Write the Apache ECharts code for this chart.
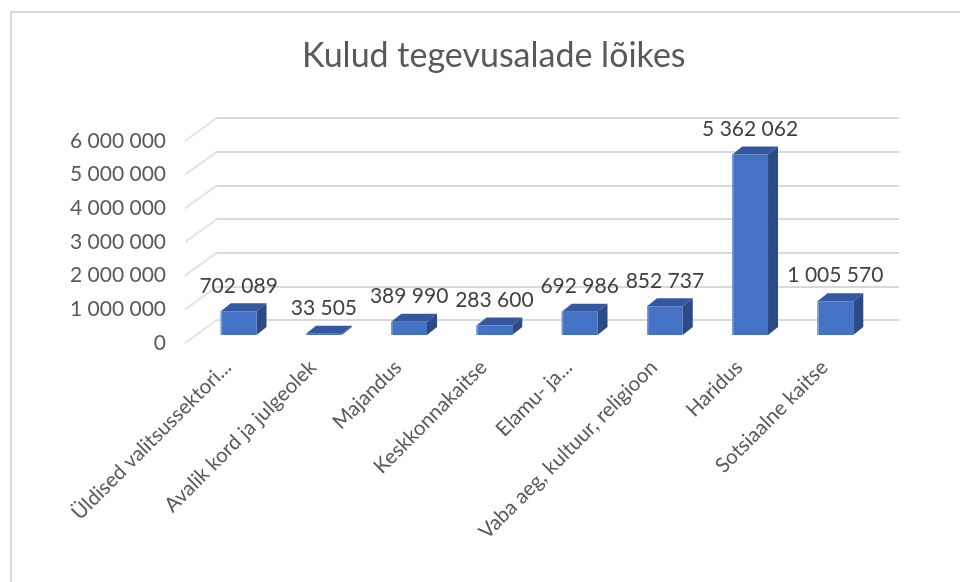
<!DOCTYPE html>
<html>
<head>
    <meta charset="utf-8">
    <title>Kulud tegevusalade lõikes</title>
    <script src="https://cdn.jsdelivr.net/npm/echarts@6/dist/echarts.min.js"></script>
    <style>
        html, body { margin: 0; padding: 0; background: #fff; overflow: hidden; }
        #frame {
            position: absolute; left: 10px; top: 11px;
            width: 1000px; height: 640px;
            border-left: 2px solid #d9d9d9; border-top: 2px solid #d9d9d9;
        }
        #main { position: absolute; left: 0; top: 0; width: 960px; height: 582px; }
    </style>
</head>
<body>
    <div id="frame"></div>
    <div id="main"></div>
    <script type="text/javascript">
        // data
        var categories = ['Üldised valitsussektori...', 'Avalik kord ja julgeolek', 'Majandus', 'Keskkonnakaitse',
                          'Elamu- ja...', 'Vaba aeg, kultuur, religioon', 'Haridus', 'Sotsiaalne kaitse'];
        var values = [702089, 33505, 389990, 283600, 692986, 852737, 5362062, 1005570];
        var yMax = 6000000;
        var yStep = 1000000;

        // three planes of the fake 3D box: front (labels), bar plane, back wall (gridlines)
        var front = { left: 185, top: 141, width: 682, height: 202 };
        var mid   = { left: 196, top: 133, width: 682, height: 202 };
        var back  = { left: 217, top: 118, width: 682, height: 202 };
        var DX = back.left - front.left, DY = front.top - back.top;
        var BAR_DX = 10, BAR_DY = 8;

        var font = 'Lato, "Open Sans", sans-serif';

        function fmt(v) {
            return String(v).replace(/\B(?=(\d{3})+(?!\d))/g, ' ');
        }

        var ticks = [];
        for (var t = 0; t <= yMax; t += yStep) ticks.push(t);

        var myChart = echarts.init(document.getElementById('main'));

        myChart.setOption({
            animation: false,
            title: {
                text: 'Kulud tegevusalade lõikes',
                left: 297, top: 34,
                textStyle: { fontFamily: font, fontSize: 34, fontWeight: 'normal', color: '#595959' }
            },
            grid: [
                { left: front.left, top: front.top, width: front.width, height: front.height },
                { left: mid.left, top: mid.top, width: mid.width, height: mid.height },
                { left: back.left, top: back.top, width: back.width, height: back.height }
            ],
            xAxis: [
                { gridIndex: 0, type: 'category', data: categories,
                  axisLine: { show: false }, axisTick: { show: false },
                  axisLabel: { interval: 0, rotate: 45, margin: 21, fontFamily: font, fontSize: 20.5, color: '#595959' } },
                { gridIndex: 1, type: 'category', data: categories, show: false },
                { gridIndex: 2, type: 'category', data: categories, show: false }
            ],
            yAxis: [
                { gridIndex: 0, type: 'value', min: 0, max: yMax, interval: yStep,
                  axisLine: { show: false }, axisTick: { show: false }, splitLine: { show: false },
                  axisLabel: { margin: 19, fontFamily: font, fontSize: 21, color: '#595959', formatter: fmt } },
                { gridIndex: 1, type: 'value', min: 0, max: yMax, interval: yStep, show: false, splitLine: { show: false } },
                { gridIndex: 2, type: 'value', min: 0, max: yMax, interval: yStep,
                  axisLine: { show: false }, axisTick: { show: false }, axisLabel: { show: false },
                  splitLine: { show: true, lineStyle: { color: '#d9d9d9', width: 2 } } }
            ],
            series: [
                {
                    // side connectors from front edge to back wall
                    type: 'custom',
                    xAxisIndex: 0, yAxisIndex: 0,
                    data: ticks.map(function (v) { return [0, v]; }),
                    silent: true,
                    renderItem: function (params, api) {
                        var p = api.coord([0, api.value(1)]);
                        var x0 = p[0] - api.size([1, 0])[0] / 2;
                        return {
                            type: 'line',
                            shape: { x1: x0, y1: p[1], x2: x0 + DX, y2: p[1] - DY },
                            style: { stroke: '#e3e3e3', lineWidth: 2 }
                        };
                    }
                },
                {
                    type: 'custom',
                    xAxisIndex: 1, yAxisIndex: 1,
                    data: values.map(function (v, i) { return [i, v]; }),
                    renderItem: function (params, api) {
                        var top = api.coord([api.value(0), api.value(1)]);
                        var bot = api.coord([api.value(0), 0]);
                        var w = api.size([1, 0])[0] * 0.42;
                        var x0 = top[0] - w / 2, x1 = top[0] + w / 2;
                        var yt = top[1], yb = bot[1];
                        return {
                            type: 'group',
                            children: [
                                { type: 'polygon',
                                  shape: { points: [[x1, yb], [x1 + BAR_DX, yb - BAR_DY], [x1 + BAR_DX, yt - BAR_DY], [x1, yt]] },
                                  style: { fill: '#2c4a85' } },
                                { type: 'polygon',
                                  shape: { points: [[x0, yt], [x1, yt], [x1 + BAR_DX, yt - BAR_DY], [x0 + BAR_DX, yt - BAR_DY]] },
                                  style: { fill: '#3457a0' } },
                                { type: 'rect',
                                  shape: { x: x0, y: yt, width: w, height: yb - yt },
                                  style: { fill: '#4472c4' } },
                                { type: 'rect',
                                  shape: { x: x0, y: yt, width: 1.5, height: yb - yt },
                                  style: { fill: '#7b9bd6' } },
                                { type: 'text',
                                  style: { text: fmt(api.value(1)), x: top[0], y: yt - BAR_DY - 7,
                                           align: 'center', verticalAlign: 'bottom',
                                           font: '21px ' + font, fill: '#404040' } }
                            ]
                        };
                    }
                }
            ]
        });
    </script>
</body>
</html>
